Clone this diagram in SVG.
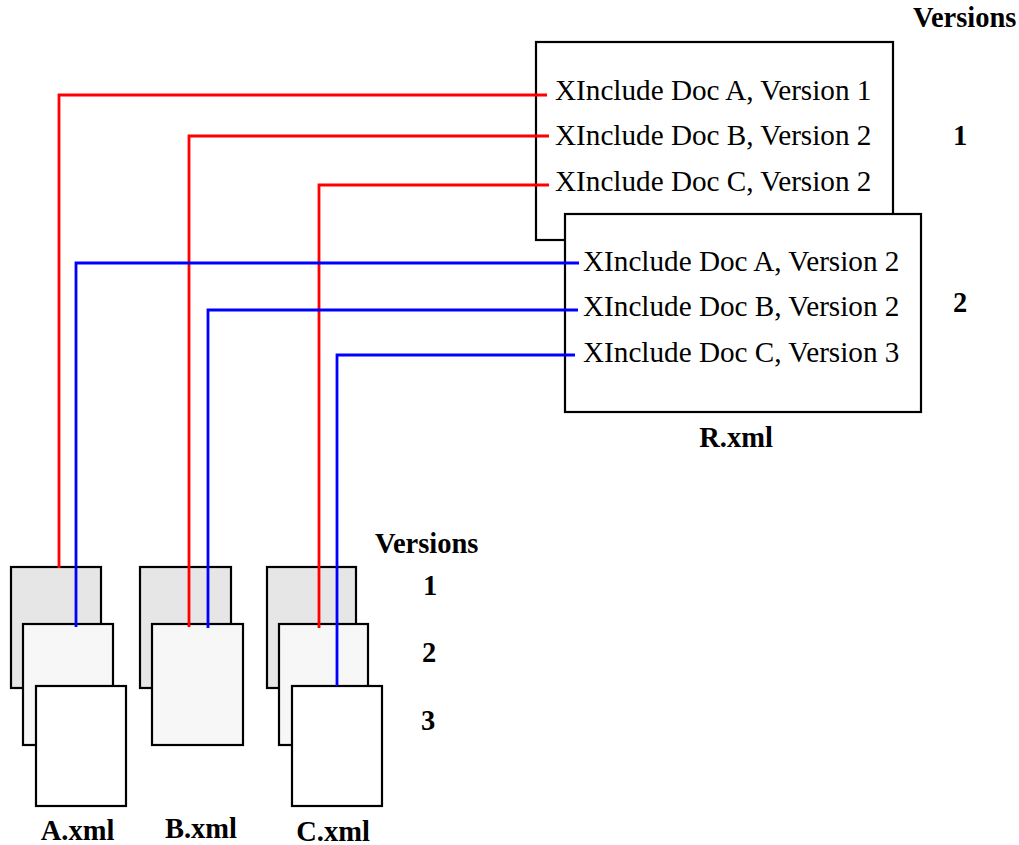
<svg xmlns="http://www.w3.org/2000/svg" width="1019" height="845" viewBox="0 0 1019 845">
<style>
.box{stroke:#000;stroke-width:2.2;}
.v1{fill:#e6e6e6;}
.v2{fill:#f7f7f7;}
.v3{fill:#fff;}
.t{font-family:"Liberation Serif","Times New Roman",serif;font-size:29.2px;fill:#000;}
.b{font-family:"Liberation Serif","Times New Roman",serif;font-size:28.5px;font-weight:bold;fill:#000;}
.red{fill:none;stroke:#ff0000;stroke-width:2.8;}
.blue{fill:none;stroke:#0000ff;stroke-width:2.8;}
</style>
<rect width="1019" height="845" fill="#fff"/>
<g id="R">
  <rect class="box v3" x="536" y="42" width="357" height="198"/>
  <text class="t" x="555" y="100">XInclude Doc A, Version 1</text>
  <text class="t" x="555" y="145">XInclude Doc B, Version 2</text>
  <text class="t" x="555" y="191">XInclude Doc C, Version 2</text>
  <rect class="box v3" x="565" y="214" width="356" height="198"/>
  <text class="t" x="583" y="271">XInclude Doc A, Version 2</text>
  <text class="t" x="583" y="316">XInclude Doc B, Version 2</text>
  <text class="t" x="583" y="362">XInclude Doc C, Version 3</text>
  <text class="b" x="736" y="447" text-anchor="middle">R.xml</text>
</g>
<g id="R-versions">
  <text class="b" x="913" y="27">Versions</text>
  <text class="b" x="953" y="145">1</text>
  <text class="b" x="953" y="312">2</text>
</g>
<g id="A">
  <rect class="box v1" x="11" y="567" width="90" height="121"/>
  <rect class="box v2" x="23" y="624" width="90" height="121"/>
  <rect class="box v3" x="36" y="686" width="90" height="120"/>
  <text class="b" x="77.5" y="840" text-anchor="middle">A.xml</text>
</g>
<g id="B">
  <rect class="box v1" x="140" y="567" width="91" height="121"/>
  <rect class="box v2" x="152" y="624" width="91" height="121"/>
  <text class="b" x="201" y="838" text-anchor="middle">B.xml</text>
</g>
<g id="C">
  <rect class="box v1" x="267" y="567" width="89" height="121"/>
  <rect class="box v2" x="279" y="624" width="89" height="121"/>
  <rect class="box v3" x="292" y="686" width="90" height="120"/>
  <text class="b" x="333" y="841" text-anchor="middle">C.xml</text>
</g>
<g id="doc-versions">
  <text class="b" x="375" y="553">Versions</text>
  <text class="b" x="423" y="595">1</text>
  <text class="b" x="422" y="662">2</text>
  <text class="b" x="421" y="730">3</text>
</g>
<g id="connectors">
  <path class="red" d="M59,568 V95 H547"/>
  <path class="red" d="M189,627 V136 H549"/>
  <path class="red" d="M319,628 V185 H549"/>
  <path class="blue" d="M76,627 V263 H579"/>
  <path class="blue" d="M208,628 V310 H578"/>
  <path class="blue" d="M337,686 V355 H575"/>
</g>
</svg>
